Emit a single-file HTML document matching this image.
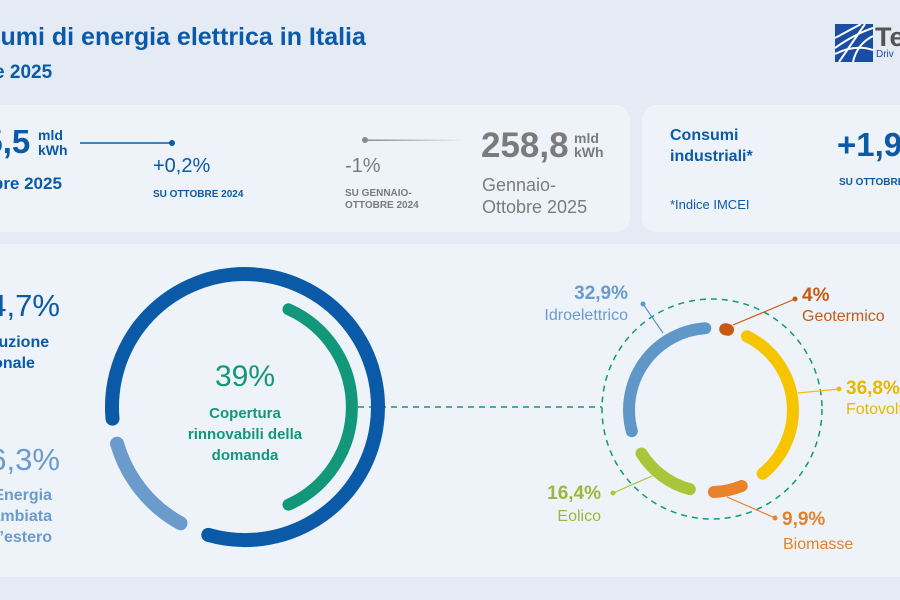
<!DOCTYPE html>
<html><head><meta charset="utf-8"><style>
*{margin:0;padding:0;box-sizing:border-box}
html,body{width:900px;height:600px;overflow:hidden}
body{background:#e4ebf5;font-family:"Liberation Sans",sans-serif}
#w{position:relative;width:900px;height:600px;overflow:hidden}
.a{position:absolute;white-space:nowrap;line-height:1}
.card{position:absolute;background:#eef3fa;border-radius:14px}
.b{color:#0b5aa7}
.g{color:#7b7b7b}
</style></head><body><div id="w">
<div class="a b" style="left:-62px;top:25px;font-size:25px;font-weight:bold">Consumi di energia elettrica in Italia</div>
<div class="a b" style="left:-64px;top:63px;font-size:19px;font-weight:bold">Ottobre 2025</div>
<svg style="position:absolute;left:835px;top:24px" width="38" height="38" viewBox="0 0 38 38"><rect width="38" height="38" fill="#1a4ea3"/><g stroke="#fff" stroke-width="2" fill="none"><path d="M0 14 L26 0"/><path d="M0 24 Q20 10 38 4"/><path d="M4 38 L30 0"/><path d="M0 30 Q20 20 38 26"/><path d="M18 38 Q22 20 38 12"/></g></svg>
<div class="a" style="left:875px;top:24px;font-size:27px;font-weight:bold;color:#555">Te</div>
<div class="a" style="left:876px;top:50px;font-size:10px;color:#1a4ea3">Driv</div>

<div class="card" style="left:-20px;top:105px;width:650px;height:127px"></div>
<div class="card" style="left:642px;top:105px;width:290px;height:127px"></div>
<div class="card" style="left:-20px;top:244px;width:940px;height:333px"></div>

<div class="a b" style="left:-34px;top:125px;font-size:33px;font-weight:bold">25,5</div>
<div class="a b" style="left:38px;top:128px;font-size:14px;font-weight:bold;line-height:15px">mld<br>kWh</div>
<div class="a b" style="left:-42px;top:175px;font-size:17px;font-weight:bold">Ottobre 2025</div>
<svg style="position:absolute;left:0;top:0" width="900" height="600">
<line x1="80" y1="143" x2="172" y2="143" stroke="#0b5aa7" stroke-width="1.5"/><circle cx="172" cy="143" r="3" fill="#0b5aa7"/>
<defs><linearGradient id="gl"><stop offset="0" stop-color="#888"/><stop offset="1" stop-color="#888" stop-opacity="0"/></linearGradient></defs>
<rect x="365" y="139.5" width="100" height="1.5" fill="url(#gl)"/><circle cx="365" cy="140" r="3" fill="#888"/>
</svg>
<div class="a b" style="left:153px;top:156px;font-size:20px">+0,2%</div>
<div class="a b" style="left:153px;top:190px;font-size:10px;font-weight:bold">SU OTTOBRE 2024</div>
<div class="a g" style="left:345px;top:156px;font-size:20px">-1%</div>
<div class="a g" style="left:345px;top:188px;font-size:10px;font-weight:bold;line-height:12px">SU GENNAIO-<br>OTTOBRE 2024</div>
<div class="a g" style="left:481px;top:128px;font-size:35px;font-weight:bold">258,8</div>
<div class="a g" style="left:574px;top:131px;font-size:14px;font-weight:bold;line-height:14px">mld<br>kWh</div>
<div class="a g" style="left:482px;top:174px;font-size:18px;line-height:22px">Gennaio-<br>Ottobre 2025</div>
<div class="a b" style="left:670px;top:125px;font-size:16px;font-weight:bold;line-height:21px">Consumi<br>industriali*</div>
<div class="a b" style="left:670px;top:198px;font-size:13px">*Indice IMCEI</div>
<div class="a b" style="left:837px;top:128px;font-size:33px;font-weight:bold">+1,9%</div>
<div class="a b" style="left:839px;top:178px;font-size:10px;font-weight:bold">SU OTTOBRE 2024</div>

<div class="a b" style="left:-28px;top:290px;font-size:31px">84,7%</div>
<div class="a b" style="left:-38px;top:332px;font-size:16px;font-weight:bold;line-height:21px">Produzione<br>nazionale</div>
<div class="a" style="left:-28px;top:444px;font-size:31px;color:#6a9bcb">16,3%</div>
<div class="a" style="left:-42px;top:485px;font-size:16px;font-weight:bold;line-height:21px;color:#6a9bcb;text-align:right;width:94px">Energia<br>scambiata<br>con l’estero</div>

<svg style="position:absolute;left:0;top:0" width="900" height="600">
<line x1="358" y1="407" x2="602" y2="407" stroke="#13977a" stroke-width="1.5" stroke-dasharray="6 5"/>
<g fill="none" stroke-linecap="round">
<path d="M112.5 418.6 A133 133 0 1 1 208.3 534.9" stroke="#0b5aa7" stroke-width="14"/>
<path d="M180.5 523.3 A133 133 0 0 1 117.1 443.7" stroke="#6a9bcb" stroke-width="14"/>
<path d="M288.5 309.3 A107 107 0 0 1 288.5 504.7" stroke="#13977a" stroke-width="12"/>
<circle cx="712" cy="409" r="110" stroke="#13977a" stroke-width="1.5" stroke-dasharray="6 5" stroke-linecap="butt"/>
<path d="M725.2 329.2 A82 82 0 0 1 728 329.8" stroke="#c85a0f" stroke-width="12"/>
<path d="M746.9 336.3 A82 82 0 0 1 762.6 473.7" stroke="#f6c500" stroke-width="12"/>
<path d="M741.7 486 A82 82 0 0 1 713.9 492" stroke="#e9822a" stroke-width="12"/>
<path d="M689.8 489.2 A82 82 0 0 1 641.5 453.5" stroke="#a9c63a" stroke-width="12"/>
<path d="M631.8 431.2 A82 82 0 0 1 705.3 328.2" stroke="#5f97c9" stroke-width="12"/>
</g>
<g stroke-width="1.2">
<line x1="643" y1="304" x2="663" y2="333" stroke="#5f97c9"/><circle cx="643" cy="304" r="2.5" fill="#5f97c9"/>
<line x1="733" y1="325" x2="795" y2="299" stroke="#c85a0f"/><circle cx="795" cy="299" r="2.5" fill="#c85a0f"/>
<line x1="798" y1="393" x2="839" y2="389" stroke="#f0c000"/><circle cx="839" cy="389" r="2.5" fill="#f0c000"/>
<line x1="727" y1="497" x2="775" y2="518" stroke="#e9822a"/><circle cx="775" cy="518" r="2.5" fill="#e9822a"/>
<line x1="652" y1="476" x2="613" y2="493" stroke="#a9c63a"/><circle cx="613" cy="493" r="2.5" fill="#a9c63a"/>
</g>
</svg>
<div class="a" style="left:145px;top:362px;width:200px;text-align:center;font-size:30px;color:#13977a">39%</div>
<div class="a" style="left:145px;top:403px;width:200px;text-align:center;font-size:15px;font-weight:bold;line-height:21px;color:#13977a">Copertura<br>rinnovabili della<br>domanda</div>

<div class="a" style="left:528px;top:284px;width:100px;text-align:right;font-size:19px;font-weight:bold;color:#6a9bcb">32,9%</div>
<div class="a" style="left:500px;top:308px;width:128px;text-align:right;font-size:16px;color:#6a9bcb">Idroelettrico</div>
<div class="a" style="left:802px;top:286px;font-size:19px;font-weight:bold;color:#c85a12">4%</div>
<div class="a" style="left:802px;top:309px;font-size:16px;color:#c85a12">Geotermico</div>
<div class="a" style="left:846px;top:379px;font-size:19px;font-weight:bold;color:#e6b800">36,8%</div>
<div class="a" style="left:846px;top:402px;font-size:16px;color:#e6b800">Fotovoltaico</div>
<div class="a" style="left:500px;top:484px;width:101px;text-align:right;font-size:19px;font-weight:bold;color:#9ab83a">16,4%</div>
<div class="a" style="left:500px;top:509px;width:101px;text-align:right;font-size:16px;color:#9ab83a">Eolico</div>
<div class="a" style="left:782px;top:510px;font-size:19px;font-weight:bold;color:#e3822a">9,9%</div>
<div class="a" style="left:783px;top:537px;font-size:16px;color:#e3822a">Biomasse</div>
</div></body></html>
